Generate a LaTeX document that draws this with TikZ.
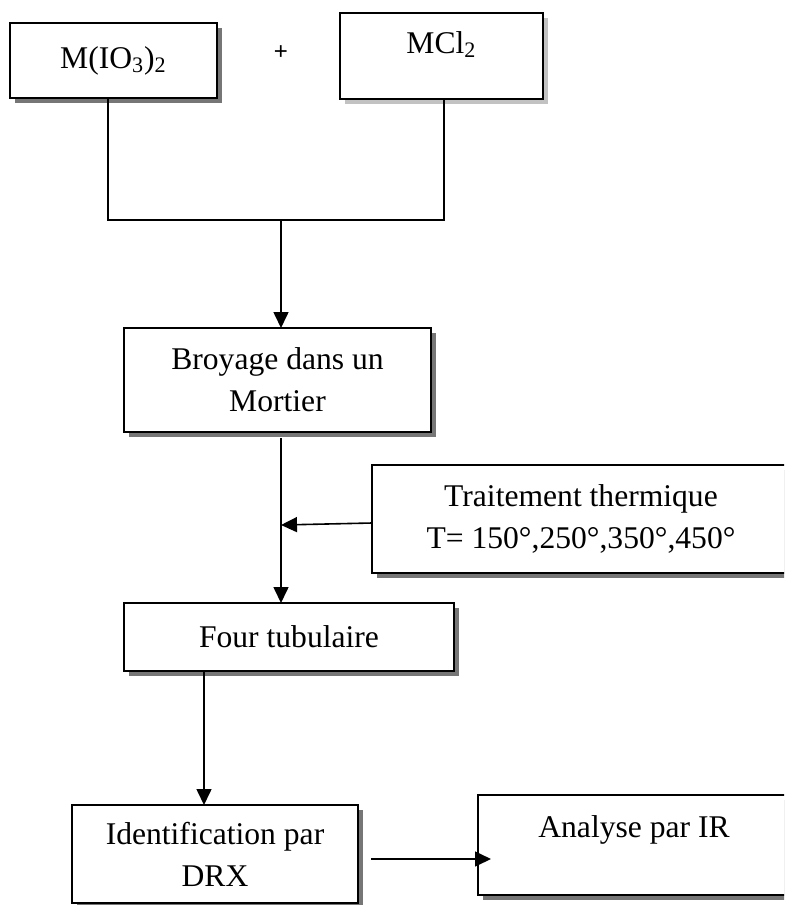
\documentclass[tikz,border=0pt]{standalone}
\usepackage{fontspec}
\setmainfont{Liberation Serif}
\setsansfont{Liberation Sans}
\usepackage{xcolor}
\definecolor{OmbreGris}{HTML}{767676}
\definecolor{OmbreClair}{HTML}{C2C2C2}
\usepackage{tikz}
\usetikzlibrary{arrows.meta,shadows}

\begin{document}
\begin{tikzpicture}[x=0.5pt, y=-0.5pt,
    etape/.style={draw=black, line width=1pt, fill=white, inner sep=0pt, outer sep=0pt,
      align=center, font=\fontsize{15.8}{21}\selectfont,
      drop shadow={shadow xshift=2.5pt, shadow yshift=-2.5pt, fill=OmbreGris, opacity=1}},
    ligne/.style={line width=0.8pt},
    fleche/.style={line width=0.8pt, -{Triangle[length=8pt, width=7.5pt]}}]
  \clip (0,0) rectangle (784,905);

  % --- Reactifs ---
  \node[etape, minimum width=103.5pt, minimum height=37.5pt] (miodo) at (113.5,60.5)
    {M(IO\textsubscript{3})\textsubscript{2}};
  \node[etape, minimum width=101.5pt, minimum height=43pt, text height=11pt, text depth=14pt,
    drop shadow={shadow xshift=2.5pt, shadow yshift=-2.5pt, fill=OmbreClair, opacity=1}]
    (mcl) at (441.5,56) {MCl\textsubscript{2}};
  \node[font=\sffamily\fontsize{12}{14}\selectfont] (plus) at (281,53) {+};
  \coordinate (jonction) at (281,220);

  % --- Broyage et four ---
  \node[etape, minimum width=153.5pt, minimum height=52pt] (broyage) at (277.5,380)
    {Broyage dans un\\Mortier};
  \node[etape, minimum width=209pt, minimum height=54pt] (traitement) at (581,519)
    {Traitement thermique\\T= 150°,250°,350°,450°};
  \node[etape, minimum width=165pt, minimum height=34pt] (four) at (289,637)
    {Four tubulaire};
  \coordinate (apport) at (281,525);

  % --- Analyses ---
  \node[etape, minimum width=143pt, minimum height=49pt] (drx) at (215,854)
    {Identification par\\DRX};
  \node[etape, minimum width=156pt, minimum height=50pt, text height=11pt, text depth=19pt]
    (ir) at (634,845) {Analyse par IR};

  % --- Liaisons ---
  \draw[ligne] ([xshift=-2.75pt]miodo.south) |- (jonction) -| ([xshift=1.25pt]mcl.south);
  \draw[fleche] (jonction) -- (jonction |- broyage.north);
  \draw[fleche] ([yshift=-3pt]broyage.south -| jonction) -- (jonction |- four.north);
  \draw[fleche] ([yshift=-2pt]traitement.west) -- (apport);
  \draw[fleche] ([xshift=-5.5pt]drx.north |- four.south) -- ([xshift=-5.5pt]drx.north);
  \draw[fleche] ([xshift=6.5pt,yshift=-2.5pt]drx.east) -- ([xshift=6.5pt,yshift=-2.5pt]drx.east -| ir.west);
\end{tikzpicture}
\end{document}
